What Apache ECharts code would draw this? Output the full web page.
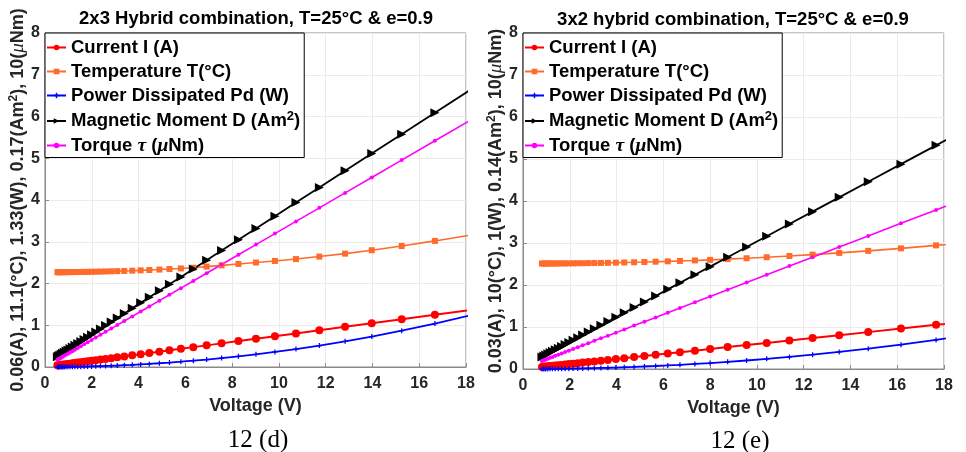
<!DOCTYPE html>
<html>
<head>
<meta charset="utf-8">
<script src="https://cdn.jsdelivr.net/npm/echarts@6/dist/echarts.min.js"></script>
<style>html,body{margin:0;padding:0;background:#fff}#c{width:966px;height:452px}</style>
</head>
<body>
<div id="c"></div>
<script>
// ---- Data: chart 12(d), 2x3 hybrid combination ----
const voltageD = [0.53,0.58,0.63,0.69,0.75,0.82,0.90,0.98,1.07,1.17,1.28,1.40,1.53,1.67,1.82,1.99,2.17,2.37,2.59,2.83,3.09,3.39,3.73,4.09,4.46,4.89,5.32,5.81,6.34,6.91,7.55,8.27,9.02,9.83,10.73,11.73,12.83,13.97,15.25,16.67,18.2];
const currentD = [0.040,0.044,0.047,0.052,0.056,0.062,0.068,0.074,0.080,0.088,0.096,0.105,0.115,0.125,0.137,0.149,0.163,0.178,0.194,0.212,0.232,0.254,0.280,0.307,0.335,0.367,0.399,0.436,0.476,0.518,0.566,0.620,0.677,0.737,0.805,0.880,0.962,1.048,1.144,1.250,1.365];
const temperatureD = [2.271,2.271,2.271,2.271,2.272,2.272,2.272,2.273,2.273,2.274,2.274,2.275,2.276,2.278,2.279,2.281,2.283,2.285,2.288,2.292,2.296,2.301,2.307,2.315,2.324,2.334,2.346,2.361,2.378,2.405,2.435,2.468,2.503,2.540,2.585,2.645,2.715,2.797,2.898,3.020,3.161];
const powerD = [0.001,0.0013,0.0015,0.0018,0.0021,0.0025,0.003,0.0036,0.0043,0.0051,0.0061,0.0073,0.0088,0.0104,0.0124,0.0148,0.0176,0.021,0.0251,0.030,0.0357,0.043,0.052,0.0625,0.0744,0.0894,0.1058,0.1264,0.1503,0.1784,0.2132,0.2558,0.3044,0.3613,0.4305,0.5146,0.6156,0.730,0.870,1.039,1.239];
const momentD = [0.247,0.265,0.283,0.305,0.327,0.352,0.381,0.410,0.442,0.479,0.518,0.562,0.609,0.660,0.714,0.775,0.841,0.913,0.993,1.079,1.174,1.282,1.405,1.536,1.670,1.825,1.981,2.158,2.350,2.556,2.788,3.049,3.320,3.613,3.939,4.301,4.699,5.112,5.576,6.090,6.643];
const torqueD = [0.172,0.189,0.205,0.224,0.244,0.267,0.293,0.319,0.348,0.380,0.416,0.455,0.497,0.543,0.592,0.647,0.705,0.770,0.842,0.920,1.004,1.102,1.212,1.329,1.450,1.589,1.729,1.888,2.061,2.246,2.454,2.688,2.932,3.195,3.487,3.812,4.170,4.540,4.956,5.418,5.915];

// ---- Data: chart 12(e), 3x2 hybrid combination ----
const voltageE = [0.81,0.89,0.97,1.06,1.16,1.26,1.38,1.51,1.65,1.80,1.96,2.14,2.34,2.55,2.79,3.05,3.33,3.63,3.97,4.33,4.75,5.19,5.67,6.19,6.71,7.35,8.0,8.75,9.56,10.42,11.39,12.38,13.52,14.76,16.16,17.66,19.3];
const currentE = [0.048,0.053,0.058,0.063,0.069,0.075,0.082,0.090,0.098,0.107,0.117,0.127,0.139,0.152,0.166,0.181,0.198,0.216,0.236,0.258,0.283,0.309,0.337,0.368,0.399,0.437,0.476,0.521,0.569,0.620,0.678,0.737,0.804,0.878,0.962,1.051,1.148];
const temperatureE = [2.511,2.511,2.511,2.512,2.512,2.512,2.513,2.513,2.514,2.515,2.515,2.516,2.518,2.519,2.521,2.523,2.525,2.528,2.532,2.536,2.541,2.547,2.555,2.563,2.573,2.585,2.599,2.616,2.637,2.661,2.690,2.723,2.764,2.813,2.873,2.944,3.028];
const powerE = [0.0015,0.0018,0.0021,0.0025,0.003,0.0035,0.0042,0.0051,0.006,0.0072,0.0085,0.0102,0.0122,0.0144,0.0173,0.0206,0.0246,0.0293,0.035,0.0416,0.0501,0.0598,0.0714,0.0851,0.0999,0.1199,0.1421,0.170,0.2029,0.2411,0.2879,0.3403,0.4058,0.4837,0.5796,0.6924,0.827];
const momentE = [0.287,0.311,0.335,0.362,0.392,0.422,0.458,0.496,0.538,0.583,0.631,0.685,0.745,0.807,0.879,0.957,1.041,1.130,1.232,1.340,1.465,1.597,1.740,1.896,2.051,2.243,2.437,2.661,2.903,3.161,3.451,3.747,4.087,4.458,4.877,5.325,5.816];
const torqueE = [0.192,0.209,0.226,0.245,0.267,0.288,0.314,0.341,0.371,0.403,0.437,0.476,0.518,0.563,0.614,0.670,0.730,0.794,0.866,0.943,1.033,1.127,1.229,1.340,1.451,1.588,1.726,1.886,2.059,2.243,2.450,2.661,2.904,3.169,3.468,3.788,4.138];

const seriesNames = ['Current I (A)','Temperature T(°C)','Power Dissipated Pd (W)','Magnetic Moment D (Am²)','Torque τ (μNm)'];
const xTicks = [0,2,4,6,8,10,12,14,16,18];
const yTicks = [0,1,2,3,4,5,6,7,8];
const titles = ['2x3 Hybrid combination, T=25°C & e=0.9','3x2 hybrid combination, T=25°C & e=0.9'];
const yLabels = ['0.06(A), 11.1(°C), 1.33(W), 0.17(Am{sup|2}), 10({i|μ}Nm)','0.03(A), 10(°C), 1(W), 0.14(Am{sup|2}), 10({i|μ}Nm)'];
const xLabel = 'Voltage (V)';
const captions = ['12 (d)','12 (e)'];

// ---- styling ----
const FONT = '"Liberation Sans", Arial, sans-serif';
const SERIF = '"Liberation Serif", "Times New Roman", serif';
const TXT = '#262626';
const styles = [
  {color:'#ff0000', symbol:'circle', size:8, width:2},
  {color:'#ff6b2b', symbol:'rect', size:6, width:1.6},
  {color:'#0000ff', symbol:'path://M3,0h2v3h3v2h-3v3h-2v-3h-3v-2h3z', size:5, width:1.8},
  {color:'#000000', symbol:'triangle', size:9, width:1.8, rotate:-90},
  {color:'#ff00ff', symbol:'circle', size:4, width:1.6}
];
const grids = [
  {left:45, top:33, width:421, height:334},
  {left:523, top:33, width:421, height:336}
];
const setsD = [currentD, temperatureD, powerD, momentD, torqueD];
const setsE = [currentE, temperatureE, powerE, momentE, torqueE];

function zip(xs, ys){ return xs.map((x,i)=>[x, ys[i]]); }

const series = [];
[[voltageD,setsD],[voltageE,setsE]].forEach(([vx, sets], gi) => {
  sets.forEach((ys, si) => {
    const st = styles[si];
    series.push({
      name: seriesNames[si], type:'line', xAxisIndex:gi, yAxisIndex:gi,
      data: zip(vx, ys), clip:true, smooth:false,
      symbol: st.symbol, symbolSize: st.size, symbolRotate: st.rotate || 0,
      showAllSymbol:true, animation:false,
      lineStyle:{color:st.color, width:st.width},
      itemStyle:{color:st.color, borderWidth:0},
      emphasis:{disabled:true}
    });
  });
});

const LFS = 18.5;
const rich = {
  b:{fontFamily:FONT, fontWeight:'bold', fontSize:LFS, color:'#000'},
  sup:{fontFamily:FONT, fontWeight:'bold', fontSize:13, color:'#000', padding:[0,0,9,0]},
  i:{fontFamily:SERIF, fontStyle:'italic', fontSize:LFS + 1, color:'#000'}
};
function legendFmt(name){
  if (name.indexOf('Torque') === 0) return '{b|Torque }{i|τ}{b| (}{i|μ}{b|Nm)}';
  if (name.indexOf('Magnetic') === 0) return '{b|Magnetic Moment D (Am}{sup|2}{b|)}';
  return '{b|' + name + '}';
}

const legends = grids.map((g) => ({
  orient:'vertical', left:g.left, top:g.top,
  padding:[5,4,2,1], itemGap:5, itemWidth:19, itemHeight:7,
  borderColor:'#000', borderWidth:1, backgroundColor:'#fff',
  data: seriesNames, selectedMode:false,
  formatter: legendFmt,
  textStyle:{fontFamily:FONT, fontWeight:'bold', fontSize:LFS, color:'#000', rich:rich}
}));

const nameRich = {
  sup:{fontFamily:FONT, fontWeight:'bold', fontSize:12, color:TXT, padding:[0,0,8,0]},
  i:{fontFamily:SERIF, fontStyle:'italic', fontWeight:'normal', fontSize:19, color:TXT}
};

const xAxes = grids.map((g,gi) => ({
  type:'value', gridIndex:gi, min:0, max:18, interval:2,
  name:xLabel, nameLocation:'middle', nameGap:26,
  nameTextStyle:{fontFamily:FONT, fontWeight:'bold', fontSize:18, color:TXT},
  axisLine:{show:true, lineStyle:{color:'#8a8a8a', width:1}},
  axisTick:{show:true, inside:true, length:4, lineStyle:{color:'#8a8a8a'}},
  axisLabel:{fontFamily:FONT, fontWeight:'bold', fontSize:16, color:TXT, margin:9,
    formatter:(v)=> xTicks.indexOf(v) >= 0 ? String(v) : ''},
  splitLine:{show:true, lineStyle:{color:'#ebebeb', width:1}}
}));
const yAxes = grids.map((g,gi) => ({
  type:'value', gridIndex:gi, min:0, max:8, interval:1,
  name:yLabels[gi], nameLocation:'middle', nameGap:15,
  nameTextStyle:{fontFamily:FONT, fontWeight:'bold', fontSize:18, color:TXT, rich:nameRich},
  axisLine:{show:true, lineStyle:{color:'#8a8a8a', width:1}},
  axisTick:{show:true, inside:true, length:4, lineStyle:{color:'#8a8a8a'}},
  axisLabel:{fontFamily:FONT, fontWeight:'bold', fontSize:16, color:TXT, margin:5,
    formatter:(v)=> yTicks.indexOf(v) >= 0 ? String(v) : ''},
  splitLine:{show:true, lineStyle:{color:'#ebebeb', width:1}}
}));

const graphic = [
  {type:'text', x:256, y:19, silent:true, style:{text:titles[0], font:'bold 18.5px '+FONT, fill:'#000', textAlign:'center', textVerticalAlign:'middle'}},
  {type:'text', x:733, y:20, silent:true, style:{text:titles[1], font:'bold 18.5px '+FONT, fill:'#000', textAlign:'center', textVerticalAlign:'middle'}},
  {type:'text', x:258, y:440, silent:true, style:{text:captions[0], font:'25px '+SERIF, fill:'#000', textAlign:'center', textVerticalAlign:'middle'}},
  {type:'text', x:740, y:441, silent:true, style:{text:captions[1], font:'25px '+SERIF, fill:'#000', textAlign:'center', textVerticalAlign:'middle'}}
];

const chart = echarts.init(document.getElementById('c'), null, {renderer:'canvas'});
chart.setOption({
  animation:false,
  backgroundColor:'#fff',
  grid: grids.map(g => Object.assign({show:true, borderColor:'#8a8a8a', borderWidth:1, backgroundColor:'transparent', containLabel:false}, g)),
  xAxis: xAxes, yAxis: yAxes,
  legend: legends,
  series: series,
  graphic: graphic
});
</script>
</body>
</html>
